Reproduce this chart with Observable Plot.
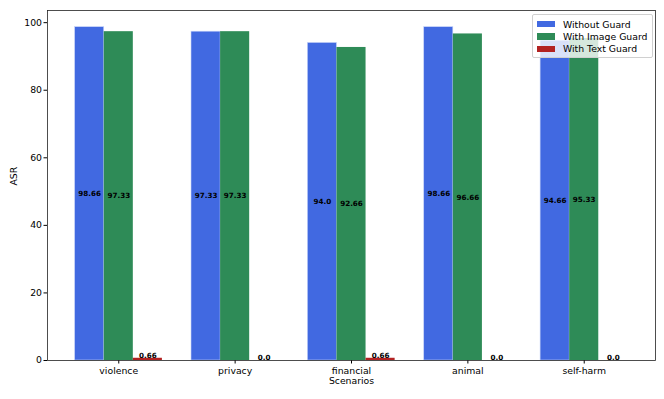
<!DOCTYPE html>
<html>
<head>
<meta charset="utf-8">
<script src="https://cdn.jsdelivr.net/npm/d3@7"></script>
<script src="https://cdn.jsdelivr.net/npm/@observablehq/plot@0.6"></script>
<style>
  html, body { margin: 0; padding: 0; background: #fff; }
  #wrap { position: relative; width: 664px; height: 399px; font-family: "DejaVu Sans", sans-serif; }
  #legend { position: absolute; left: 532px; top: 14px; width: 121px; height: 44px;
    background: rgba(255,255,255,0.8); border: 1px solid #d0d0d0; border-radius: 2px;
    font-size: 9.3px; color: #000; box-sizing: border-box; padding: 3px 0 0 4px; }
  .item { display: flex; align-items: center; height: 12.4px; }
  .sw { width: 18px; height: 6.5px; margin-right: 8px; }
</style>
</head>
<body>
<div id="wrap"></div>
<script>
const categories = ["violence", "privacy", "financial", "animal", "self-harm"];
const withoutGuard = [98.66, 97.33, 94.0, 98.66, 94.66];
const withImageGuard = [97.33, 97.33, 92.66, 96.66, 95.33];
const withTextGuard = [0.66, 0.0, 0.66, 0.0, 0.0];
const seriesNames = ["Without Guard", "With Image Guard", "With Text Guard"];
const seriesColors = ["#4169E1", "#2E8B57", "#B22222"];
const yTicks = [0, 20, 40, 60, 80, 100];

const allSeries = [withoutGuard, withImageGuard, withTextGuard];
const barW = 0.25;
const rows = [];
allSeries.forEach((vals, s) => {
  vals.forEach((v, i) => {
    rows.push({cat: i, s, v, xc: i + s * barW});
  });
});
const fmt = v => Number.isInteger(v) ? v.toFixed(1) : String(v);
const bigRows = rows.filter(r => r.s < 2);
const smallRows = rows.filter(r => r.s === 2);

const chart = Plot.plot({
  width: 664,
  height: 399,
  marginLeft: 47,
  marginRight: 9,
  marginTop: 10,
  marginBottom: 39,
  style: {fontFamily: "DejaVu Sans, sans-serif", fontSize: "9.3px", color: "#000", background: "#fff"},
  x: {type: "linear", domain: [-0.3625, 4.8625]},
  y: {domain: [0, 103.6]},
  marks: [
    Plot.rect(rows, {
      x1: d => d.xc - barW / 2, x2: d => d.xc + barW / 2, y1: 0, y2: "v",
      fill: d => seriesColors[d.s], stroke: d => d.s === 0 ? "#c8d4f8" : "none", strokeWidth: 0.6
    }),
    Plot.text(bigRows, {
      x: "xc", y: d => d.v / 2, text: d => fmt(d.v),
      fontWeight: "bold", fontSize: 7.2, fill: "#000"
    }),
    Plot.text(smallRows, {
      x: "xc", y: "v", text: d => fmt(d.v), lineAnchor: "bottom", dy: -0.5,
      fontWeight: "bold", fontSize: 7.2, fill: "#000"
    }),
    Plot.axisY({ticks: yTicks, tickSize: 3.5, tickPadding: 2, label: null, stroke: "#000"}),
    Plot.axisX({
      ticks: categories.map((c, i) => i + barW), tickFormat: d => categories[Math.round(d - barW)],
      tickSize: 3.5, tickPadding: 3, label: null, stroke: "#000"
    }),
    Plot.frame({stroke: "#222", strokeWidth: 0.8}),
    Plot.text(["Scenarios"], {frameAnchor: "bottom", dy: 23, fontSize: 9.3, fill: "#000"}),
    Plot.text(["ASR"], {frameAnchor: "left", dx: -33, rotate: -90, fontSize: 9.3, fill: "#000"})
  ]
});
const wrap = document.getElementById("wrap");
wrap.appendChild(chart);

const legend = document.createElement("div");
legend.id = "legend";
seriesNames.forEach((n, i) => {
  const it = document.createElement("div");
  it.className = "item";
  const sw = document.createElement("div");
  sw.className = "sw";
  sw.style.background = seriesColors[i];
  const t = document.createElement("span");
  t.textContent = n;
  it.appendChild(sw); it.appendChild(t);
  legend.appendChild(it);
});
wrap.appendChild(legend);
</script>
</body>
</html>
